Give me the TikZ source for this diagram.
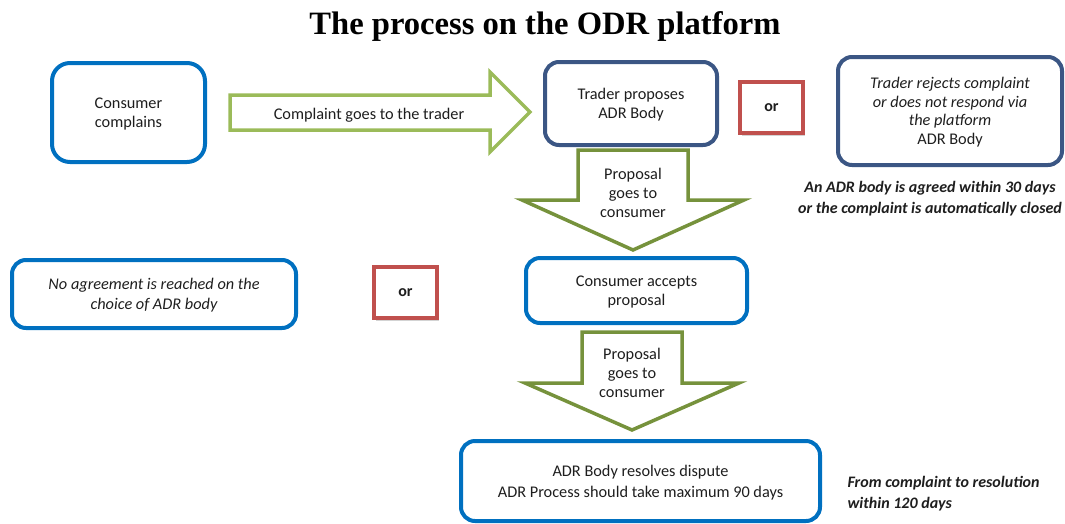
\documentclass[tikz,border=0pt]{standalone}
\usepackage{fontspec}
\setmainfont{Carlito}
\newfontfamily\titlefont{Liberation Serif}
\usetikzlibrary{shadows}
\definecolor{boxblue}{RGB}{0,112,192}
\definecolor{navyblue}{RGB}{59,86,132}
\definecolor{lightgreen}{RGB}{155,187,89}
\definecolor{olivegreen}{RGB}{118,146,60}
\definecolor{orred}{RGB}{192,80,77}
\definecolor{inktext}{RGB}{30,30,30}
\tikzstyle{bodytext}=[text=inktext, align=center, font=\fontsize{16.3}{19}\selectfont]
\tikzstyle{bluebox}=[bodytext, draw=boxblue, line width=4pt, rounded corners=14pt, inner sep=0pt, text depth=-3pt]
\tikzstyle{navybox}=[bluebox, draw=navyblue]
\tikzstyle{orbox}=[bodytext, draw=orred, line width=4pt, fill=white, inner sep=0pt, minimum width=63pt, minimum height=51pt, font=\fontsize{16}{19}\selectfont\bfseries, drop shadow={opacity=0.35, shadow xshift=2pt, shadow yshift=-2.5pt}]
\tikzstyle{notetext}=[bodytext, font=\fontsize{16}{20.5}\selectfont\bfseries\itshape]
\tikzstyle{downblock}=[draw=olivegreen, line width=3.5pt, line join=miter, fill=white]
% #1 centre x, #2 top, #3 half body, #4 head top, #5 half head, #6 tip
\newcommand{\blockdown}[6]{
\draw[downblock] (#1-#3,#2) -- (#1+#3,#2) -- (#1+#3,#4) -- (#1+#5,#4) -- (#1,#6)
  -- (#1-#5,#4) -- (#1-#3,#4) -- cycle;
}
\begin{document}
\begin{tikzpicture}[x=1pt,y=-1pt]
\useasboundingbox (0,0) rectangle (1065,523);
\node[font=\titlefont\fontsize{32.6}{36}\selectfont\bfseries] (title) at (545,26) {The process on the ODR platform};
\node[bluebox, rounded corners=18pt, minimum width=153pt, minimum height=99pt] (complains) at (128.5,112.5) {Consumer\\complains};
\draw[draw=lightgreen, line width=3.5pt, line join=miter] (230,95) -- (490,95) -- (490,72) -- (530,112)
  -- (490,152) -- (490,130) -- (230,130) -- cycle;
\node[bodytext] (togoes) at (369,115) {Complaint goes to the trader};
\node[navybox, minimum width=172pt, minimum height=83pt] (proposes) at (631,103.5) {Trader proposes\\ADR Body};
\node[orbox] (or1) at (771.5,107.5) {or};
\node[navybox, minimum width=224pt, minimum height=108pt, font=\fontsize{16.3}{18.5}\selectfont\itshape] (rejects) at (950,111) {Trader rejects complaint\\or does not respond via\\the platform\\\upshape ADR Body};
\node[notetext] (agreed) at (930,198.5) {An ADR body is agreed within 30 days\\or the complaint is automatically closed};
\blockdown{633}{150}{55}{200}{111}{250}
\node[bodytext] (goes1) at (633,193) {Proposal\\goes to\\consumer};
\node[bluebox, minimum width=284pt, minimum height=68pt, font=\fontsize{16.3}{20}\selectfont\itshape] (noagree) at (154,294) {No agreement is reached on the\\choice of ADR body};
\node[orbox] (or2) at (405.5,292.5) {or};
\node[bluebox, minimum width=221pt, minimum height=65pt] (accepts) at (636.5,290.5) {Consumer accepts\\proposal};
\blockdown{632}{332}{50}{383}{107}{430}
\node[bodytext] (goes2) at (632,373) {Proposal\\goes to\\consumer};
\node[bluebox, minimum width=359pt, minimum height=80pt, font=\fontsize{16.3}{21}\selectfont] (resolves) at (640.5,481) {ADR Body resolves dispute\\ADR Process should take maximum 90 days};
\node[notetext, align=left, anchor=west] (within) at (844,493.5) {From complaint to resolution\\within 120 days};
\end{tikzpicture}
\end{document}
